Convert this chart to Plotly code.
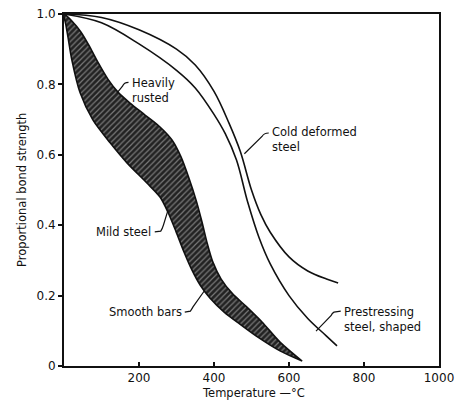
import plotly.graph_objects as go

# ---- data (temperature in °C, proportional bond strength) ----
band_lower_T = [0, 5, 11, 21, 43, 77, 123, 168, 221, 256, 277, 299, 320, 341, 363, 389, 427, 469, 517, 576, 635]
band_lower_y = [1.0, 0.969, 0.932, 0.869, 0.776, 0.699, 0.634, 0.577, 0.52, 0.48, 0.4375, 0.381, 0.324, 0.273, 0.230, 0.193, 0.153, 0.119, 0.082, 0.043, 0.014]

band_upper_T = [0, 21, 45, 69, 93, 117, 144, 176, 216, 256, 288, 312, 333, 352, 368, 381, 397, 419, 448, 485, 528, 576, 635]
band_upper_y = [1.0, 0.980, 0.949, 0.906, 0.858, 0.815, 0.778, 0.747, 0.713, 0.679, 0.642, 0.594, 0.534, 0.472, 0.409, 0.352, 0.295, 0.247, 0.207, 0.170, 0.125, 0.068, 0.014]

cold_T = [0, 100, 200, 300, 350, 400, 440, 470, 500, 525, 550, 600, 650, 700, 731]
cold_y = [1.0, 0.99, 0.955, 0.90, 0.855, 0.78, 0.69, 0.61, 0.50, 0.43, 0.38, 0.31, 0.27, 0.247, 0.236]

pre_T = [0, 100, 200, 300, 350, 400, 430, 460, 490, 520, 550, 600, 650, 700, 728]
pre_y = [1.0, 0.975, 0.915, 0.84, 0.79, 0.715, 0.66, 0.585, 0.465, 0.365, 0.29, 0.20, 0.135, 0.085, 0.057]

x_ticks = [200, 400, 600, 800, 1000]
x_tick_labels = ["200", "400", "600", "800", "1000"]
y_ticks = [0, 0.2, 0.4, 0.6, 0.8, 1.0]
y_tick_labels = ["0", "0.2", "0.4", "0.6", "0.8", "1.0"]

FONT = "DejaVu Sans, Arial, sans-serif"
INK = "#111111"

fig = go.Figure()

# hatched band (mild steel / heavily rusted / smooth bars)
band_x = band_lower_T + band_upper_T[::-1]
band_y = band_lower_y + band_upper_y[::-1]
fig.add_trace(go.Scatter(
    x=band_x, y=band_y, mode="lines", fill="toself",
    line=dict(color=INK, width=1.6, shape="spline", smoothing=0.8),
    fillcolor="#2a2a2a",
    fillpattern=dict(shape="/", fgcolor="#cfcfcf", bgcolor="#222222", size=4, solidity=0.3),
    hoverinfo="skip", showlegend=False))

fig.add_trace(go.Scatter(x=cold_T, y=cold_y, mode="lines",
                         line=dict(color=INK, width=1.6, shape="spline", smoothing=1.0),
                         showlegend=False))
fig.add_trace(go.Scatter(x=pre_T, y=pre_y, mode="lines",
                         line=dict(color=INK, width=1.6, shape="spline", smoothing=1.0),
                         showlegend=False))

labels = [
    dict(text="Heavily<br>rusted", x=176, y=0.783, xanchor="left"),
    dict(text="Cold deformed<br>steel", x=549, y=0.643, xanchor="left"),
    dict(text="Mild steel", x=237, y=0.381, xanchor="right"),
    dict(text="Smooth bars", x=319, y=0.153, xanchor="right"),
    dict(text="Prestressing<br>steel, shaped", x=741, y=0.132, xanchor="left"),
]
for lb in labels:
    fig.add_annotation(text=lb["text"], x=lb["x"], y=lb["y"], xref="x", yref="y",
                       xanchor=lb["xanchor"], yanchor="middle", showarrow=False,
                       align="left", font=dict(family=FONT, size=11.5, color=INK))

leaders = [
    "M 172,0.806 Q 160,0.806 156,0.795 L 141,0.775",
    "M 546,0.662 Q 533,0.662 528,0.652 L 481,0.603",
    "M 242,0.381 L 258,0.383 Q 262,0.390 265,0.400 L 278,0.445",
    "M 322,0.153 L 337,0.156 Q 341,0.162 344,0.168 L 374,0.213",
    "M 738,0.156 L 720,0.153 Q 715,0.150 712,0.143 L 672,0.099",
]
for p in leaders:
    fig.add_shape(type="path", path=p, xref="x", yref="y",
                  line=dict(color=INK, width=1.2))

# axis titles
fig.add_annotation(text="Temperature —°C", xref="paper", yref="paper", x=0.504, y=-0.077,
                   xanchor="center", yanchor="middle", showarrow=False,
                   font=dict(family=FONT, size=11.5, color=INK))
fig.add_annotation(text="Proportional bond strength", xref="paper", yref="paper", x=-0.112, y=0.5,
                   xanchor="center", yanchor="middle", showarrow=False, textangle=-90,
                   font=dict(family=FONT, size=11.5, color=INK))

fig.update_xaxes(range=[0, 1000], tickvals=x_ticks, ticktext=x_tick_labels,
                 ticks="inside", ticklen=4, tickwidth=1.5, tickcolor=INK,
                 showline=True, linecolor=INK, linewidth=1.8, mirror=True,
                 showgrid=False, zeroline=False, automargin=False,
                 tickfont=dict(family=FONT, size=12, color=INK))
fig.update_yaxes(range=[0, 1.0], tickvals=y_ticks, ticktext=y_tick_labels,
                 ticks="outside", ticklen=4, tickwidth=1.5, tickcolor=INK,
                 showline=True, linecolor=INK, linewidth=1.8, mirror=True,
                 showgrid=False, zeroline=False, automargin=False,
                 tickfont=dict(family=FONT, size=12, color=INK))

fig.update_layout(width=459, height=404, margin=dict(l=64, r=20, t=14, b=38),
                  plot_bgcolor="white", paper_bgcolor="white", showlegend=False)

fig.write_html("out.html", config={"displayModeBar": False},
               post_script="document.body.style.margin='0';")
